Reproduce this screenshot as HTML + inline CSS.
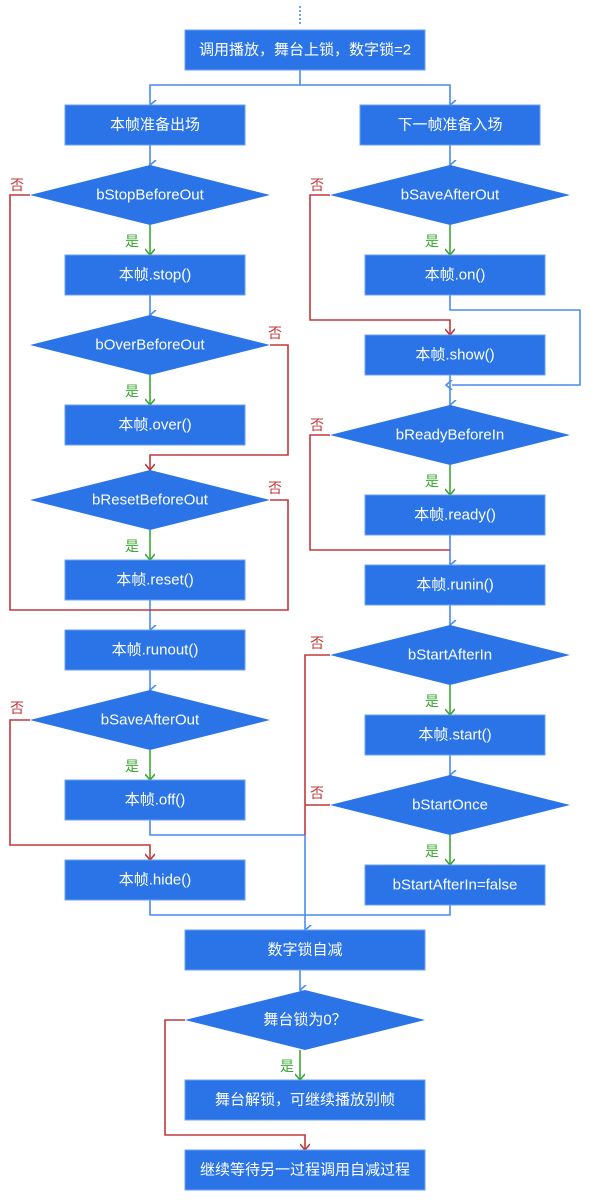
<!DOCTYPE html>
<html><head><meta charset="utf-8"><style>body{margin:0;background:#fff}svg{display:block}text{font-family:"Liberation Sans","Noto Sans CJK SC",sans-serif}</style></head><body>
<svg width="600" height="1200" viewBox="0 0 600 1200" xmlns="http://www.w3.org/2000/svg">
<defs>
<marker id="ab" markerWidth="10" markerHeight="10" refX="5" refY="8" orient="auto-start-reverse" markerUnits="userSpaceOnUse"><path d="M0,2 L5,8 L10,2" fill="none" stroke="#4a8cf0" stroke-width="1.6"/></marker>
<marker id="ag" markerWidth="10" markerHeight="10" refX="5" refY="8" markerUnits="userSpaceOnUse"><path d="M0,2 L5,8 L10,2" fill="none" stroke="#3aa832" stroke-width="1.6"/></marker>
<marker id="ar" markerWidth="10" markerHeight="10" refX="5" refY="8" markerUnits="userSpaceOnUse"><path d="M0,2 L5,8 L10,2" fill="none" stroke="#c0393b" stroke-width="1.6"/></marker>
<marker id="al" markerWidth="10" markerHeight="10" refX="8" refY="5" markerUnits="userSpaceOnUse"><path d="M8,0 L2,5 L8,10" fill="none" stroke="#4a8cf0" stroke-width="1.6"/></marker>
</defs>
<g fill="none" stroke-width="1.6">
<line x1="300" y1="6" x2="300" y2="26" stroke="#4a8cf0" stroke-dasharray="2,2"/>
<g stroke="#4a8cf0">
<path d="M300,70 V85 H150 V105" marker-end="url(#ab)"/>
<path d="M300,85 H450 V105" marker-end="url(#ab)"/>
<path d="M150,145 V165" marker-end="url(#ab)"/>
<path d="M150,295 V315" marker-end="url(#ab)"/>
<path d="M150,600 V630" marker-end="url(#ab)"/>
<path d="M150,670 V690" marker-end="url(#ab)"/>
<path d="M150,820 V835 H305 V930" marker-end="url(#ab)"/>
<path d="M150,900 V915 H450 V905"/>
<path d="M450,145 V165" marker-end="url(#ab)"/>
<path d="M450,295 V310 H580 V385 H452" marker-end="url(#al)"/>
<path d="M450,375 V405" marker-end="url(#ab)"/>
<path d="M450,535 V565" marker-end="url(#ab)"/>
<path d="M450,605 V625" marker-end="url(#ab)"/>
<path d="M450,755 V775" marker-end="url(#ab)"/>
<path d="M300,970 V990" marker-end="url(#ab)"/>
</g>
<g stroke="#3aa832">
<path d="M150,225 V255" marker-end="url(#ag)"/>
<path d="M150,375 V405" marker-end="url(#ag)"/>
<path d="M150,530 V560" marker-end="url(#ag)"/>
<path d="M150,750 V780" marker-end="url(#ag)"/>
<path d="M450,225 V255" marker-end="url(#ag)"/>
<path d="M450,465 V495" marker-end="url(#ag)"/>
<path d="M450,685 V715" marker-end="url(#ag)"/>
<path d="M450,835 V865" marker-end="url(#ag)"/>
<path d="M300,1050 V1080" marker-end="url(#ag)"/>
</g>
<g stroke="#c0393b">
<path d="M30,195 H10 V610 H288 V500 H270"/>
<path d="M270,345 H288 V455 H150 V470" marker-end="url(#ar)"/>
<path d="M30,720 H10 V845 H150 V860" marker-end="url(#ar)"/>
<path d="M330,195 H310 V320 H450 V335" marker-end="url(#ar)"/>
<path d="M330,435 H310 V550 H450"/>
<path d="M330,655 H305 V835"/>
<path d="M330,805 H305"/>
<path d="M185,1020 H165 V1135 H305 V1150" marker-end="url(#ar)"/>
</g>
</g>
<g fill="#2a74e8" stroke="#6aa0f0" stroke-width="1">
<rect x="185" y="30" width="240" height="40"/>
<rect x="65" y="105" width="180" height="40"/>
<rect x="360" y="105" width="180" height="40"/>
<rect x="65" y="255" width="180" height="40"/>
<rect x="65" y="405" width="180" height="40"/>
<rect x="65" y="560" width="180" height="40"/>
<rect x="65" y="630" width="180" height="40"/>
<rect x="65" y="780" width="180" height="40"/>
<rect x="65" y="860" width="180" height="40"/>
<rect x="365" y="255" width="180" height="40"/>
<rect x="365" y="335" width="180" height="40"/>
<rect x="365" y="495" width="180" height="40"/>
<rect x="365" y="565" width="180" height="40"/>
<rect x="365" y="715" width="180" height="40"/>
<rect x="365" y="865" width="180" height="40"/>
<rect x="185" y="930" width="240" height="40"/>
<rect x="185" y="1080" width="240" height="40"/>
<rect x="185" y="1150" width="240" height="40"/>
<path d="M30,195 L150,165 L270,195 L150,225Z" stroke="none"/>
<path d="M30,345 L150,315 L270,345 L150,375Z" stroke="none"/>
<path d="M30,500 L150,470 L270,500 L150,530Z" stroke="none"/>
<path d="M30,720 L150,690 L270,720 L150,750Z" stroke="none"/>
<path d="M330,195 L450,165 L570,195 L450,225Z" stroke="none"/>
<path d="M330,435 L450,405 L570,435 L450,465Z" stroke="none"/>
<path d="M330,655 L450,625 L570,655 L450,685Z" stroke="none"/>
<path d="M330,805 L450,775 L570,805 L450,835Z" stroke="none"/>
<path d="M185,1020 L305,990 L425,1020 L305,1050Z" stroke="none"/>
</g>
<g fill="#fff" font-size="15" text-anchor="middle" dominant-baseline="central">
<text x="305" y="50">调用播放，舞台上锁，数字锁=2</text>
<text x="155" y="125">本帧准备出场</text>
<text x="450" y="125">下一帧准备入场</text>
<text x="150" y="195">bStopBeforeOut</text>
<text x="155" y="275">本帧.stop()</text>
<text x="150" y="345">bOverBeforeOut</text>
<text x="155" y="425">本帧.over()</text>
<text x="150" y="500">bResetBeforeOut</text>
<text x="155" y="580">本帧.reset()</text>
<text x="155" y="650">本帧.runout()</text>
<text x="150" y="720">bSaveAfterOut</text>
<text x="155" y="800">本帧.off()</text>
<text x="155" y="880">本帧.hide()</text>
<text x="450" y="195">bSaveAfterOut</text>
<text x="455" y="275">本帧.on()</text>
<text x="455" y="355">本帧.show()</text>
<text x="450" y="435">bReadyBeforeIn</text>
<text x="455" y="515">本帧.ready()</text>
<text x="455" y="585">本帧.runin()</text>
<text x="450" y="655">bStartAfterIn</text>
<text x="455" y="735">本帧.start()</text>
<text x="450" y="805">bStartOnce</text>
<text x="455" y="885">bStartAfterIn=false</text>
<text x="305" y="950">数字锁自减</text>
<text x="305" y="1020">舞台锁为0？</text>
<text x="305" y="1100">舞台解锁，可继续播放别帧</text>
<text x="305" y="1170">继续等待另一过程调用自减过程</text>
</g>
<g font-size="14" fill="#3aa832" text-anchor="middle">
<text x="132" y="246">是</text><text x="132" y="396">是</text><text x="132" y="551">是</text><text x="132" y="771">是</text>
<text x="432" y="246">是</text><text x="432" y="486">是</text><text x="432" y="706">是</text><text x="432" y="856">是</text>
<text x="287" y="1071">是</text>
</g>
<g font-size="14" fill="#c0393b" text-anchor="middle">
<text x="17" y="190">否</text><text x="275" y="338">否</text><text x="275" y="493">否</text><text x="17" y="713">否</text>
<text x="317" y="190">否</text><text x="317" y="430">否</text><text x="317" y="648">否</text><text x="317" y="798">否</text>
</g>
</svg>
</body></html>
